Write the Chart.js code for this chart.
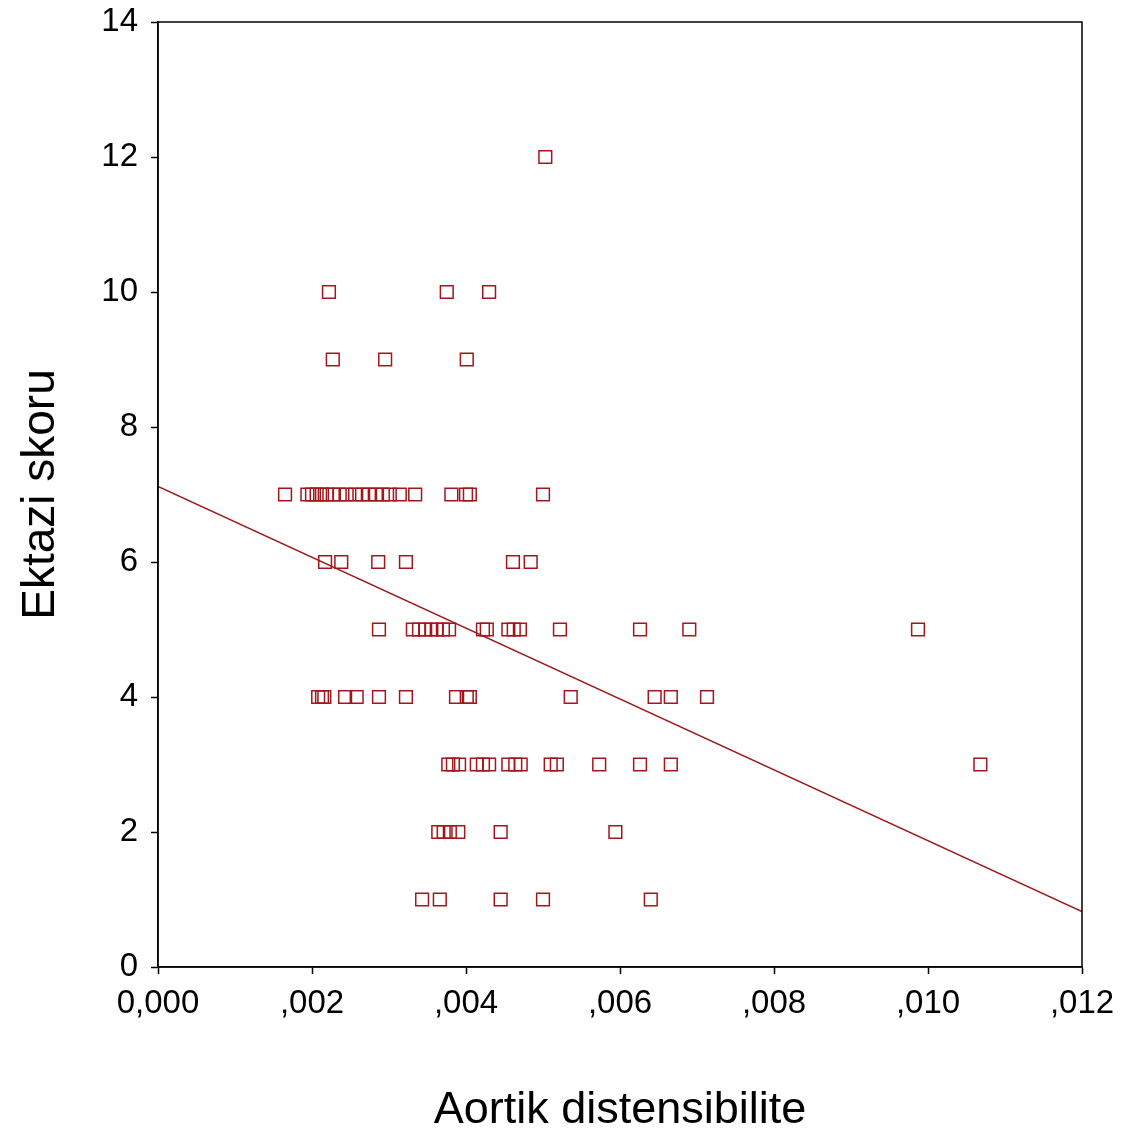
<!DOCTYPE html>
<html>
<head>
<meta charset="utf-8">
<script src="https://cdn.jsdelivr.net/npm/chart.js@4"></script>
<style>
  html, body { margin: 0; padding: 0; background: #fff; }
  #wrap { width: 1133px; height: 1140px; }
</style>
</head>
<body>
<div id="wrap"><canvas id="ch" width="1133" height="1140"></canvas></div>
<script>
// Aortik distensibilite vs Ektazi skoru (scatter + fit line)
const xTicks = [0, 0.002, 0.004, 0.006, 0.008, 0.010, 0.012];
const yTicks = [0, 2, 4, 6, 8, 10, 12, 14];

// x values grouped by y level
const x12 = [0.00503];
const x10 = [0.00222, 0.00375, 0.00430];
const x9 = [0.00227, 0.00295, 0.00401];
const x7 = [0.00165, 0.00194, 0.00200, 0.00206, 0.00213, 0.00219, 0.00227, 0.00236, 0.00245,
  0.00256, 0.00265, 0.00274, 0.00283, 0.00292, 0.00301, 0.00314, 0.00334, 0.00381, 0.00400,
  0.00405, 0.00500];
const x6 = [0.00217, 0.00238, 0.00286, 0.00322, 0.00461, 0.00484];
const x5 = [0.00287, 0.00331, 0.00339, 0.00347, 0.00355, 0.00362, 0.00370, 0.00378, 0.00422,
  0.00427, 0.00455, 0.00462, 0.00470, 0.00522, 0.00626, 0.00690, 0.00987];
const x4 = [0.00208, 0.00213, 0.00216, 0.00243, 0.00258, 0.00287, 0.00322, 0.00387, 0.00401,
  0.00405, 0.00536, 0.00645, 0.00666, 0.00713];
const x3 = [0.00377, 0.00383, 0.00391, 0.00414, 0.00422, 0.00430, 0.00455, 0.00464, 0.00471,
  0.00510, 0.00518, 0.00573, 0.00626, 0.00666, 0.01068];
const x2 = [0.00364, 0.00371, 0.00379, 0.00390, 0.00445, 0.00594];
const x1 = [0.00343, 0.00366, 0.00445, 0.00500, 0.00640];

const levels = [12, 10, 9, 7, 6, 5, 4, 3, 2, 1];
const groups = [x12, x10, x9, x7, x6, x5, x4, x3, x2, x1];

// regression line end points
const fitX = [0, 0.012];
const fitY = [7.12, 0.82];

const points = [];
groups.forEach((xs, i) => xs.forEach(x => points.push({ x: x, y: levels[i] })));

const FONT = '"Liberation Sans", Arial, sans-serif';

const frame = {
  id: 'frame',
  afterDatasetsDraw(chart) {
    const a = chart.chartArea, c = chart.ctx;
    c.save();
    c.strokeStyle = '#000';
    c.lineWidth = 1.5;
    c.strokeRect(a.left, a.top, a.right - a.left, a.bottom - a.top);
    c.restore();
  }
};

new Chart(document.getElementById('ch'), {
  type: 'scatter',
  data: {
    datasets: [
      {
        label: 'data',
        data: points,
        pointStyle: 'rect',
        radius: 9,
        hoverRadius: 9,
        borderWidth: 1.5,
        borderColor: '#a3161c',
        backgroundColor: 'rgba(0,0,0,0)'
      },
      {
        type: 'line',
        label: 'fit',
        data: fitX.map((x, i) => ({ x: x, y: fitY[i] })),
        borderColor: '#9b1b1b',
        borderWidth: 1.5,
        pointRadius: 0,
        fill: false
      }
    ]
  },
  options: {
    responsive: false,
    animation: false,
    layout: { padding: { top: 22, right: 51, left: 0, bottom: 0 } },
    plugins: { legend: { display: false }, tooltip: { enabled: false } },
    scales: {
      x: {
        type: 'linear',
        min: 0, max: 0.012,
        afterFit(s) { s.height = 173; s.paddingLeft = 0; s.paddingRight = 0; },
        afterBuildTicks(s) { s.ticks = xTicks.map(v => ({ value: v })); },
        grid: { drawOnChartArea: false, drawTicks: true, tickLength: 7, tickColor: '#000', tickWidth: 1.5 },
        border: { display: true, color: '#000', width: 1.5 },
        ticks: {
          color: '#000',
          padding: 10,
          font: { family: FONT, size: 33 },
          maxRotation: 0,
          callback: v => v === 0 ? '0,000' : ',' + (v * 1000).toFixed(0).padStart(3, '0')
        },
        title: {
          display: true,
          text: 'Aortik distensibilite',
          color: '#000',
          font: { family: FONT, size: 45 },
          padding: { top: 0, bottom: 2 }
        }
      },
      y: {
        type: 'linear',
        min: 0, max: 14,
        afterFit(s) { s.width = 158; s.paddingTop = 0; s.paddingBottom = 0; },
        afterBuildTicks(s) { s.ticks = yTicks.map(v => ({ value: v })); },
        grid: { drawOnChartArea: false, drawTicks: true, tickLength: 7, tickColor: '#000', tickWidth: 1.5 },
        border: { display: true, color: '#000', width: 1.5 },
        ticks: {
          color: '#000',
          padding: 13,
          font: { family: FONT, size: 33 }
        },
        title: {
          display: true,
          text: 'Ektazi skoru',
          color: '#000',
          font: { family: FONT, size: 46 },
          padding: { top: 14, bottom: 0 }
        }
      }
    }
  },
  plugins: [frame]
});
</script>
</body>
</html>
